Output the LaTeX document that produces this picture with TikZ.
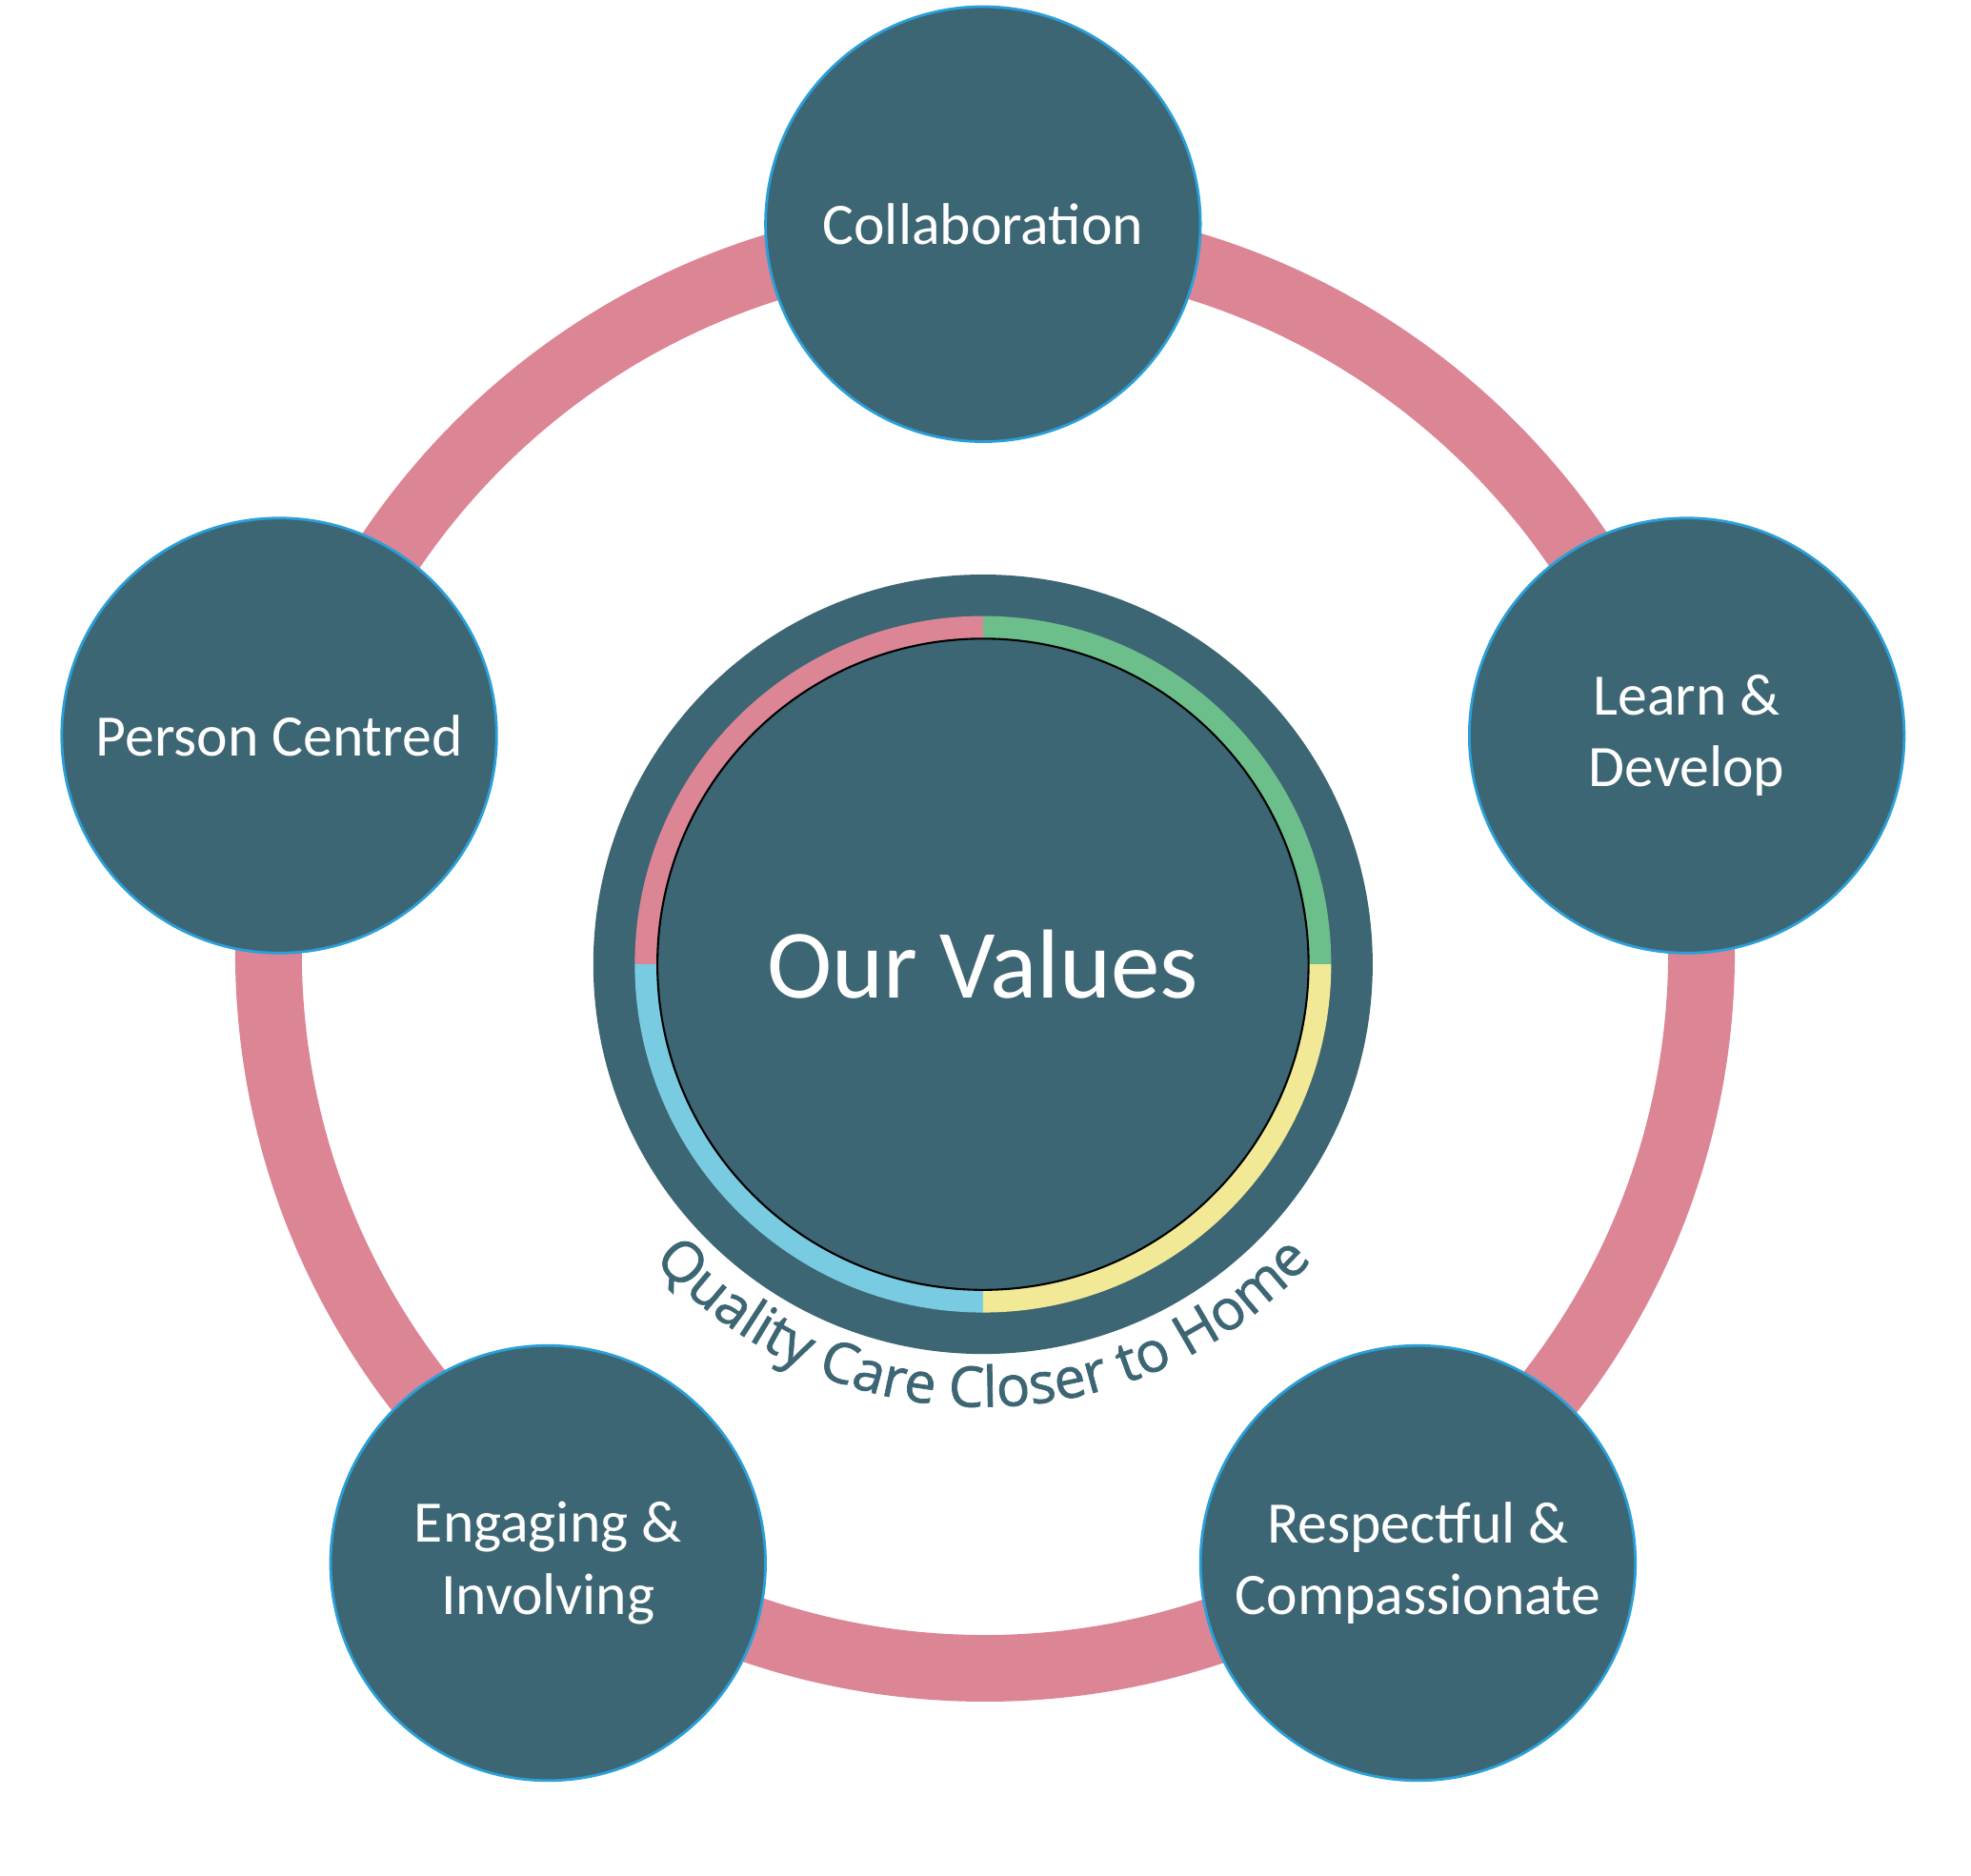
\documentclass[tikz,border=0pt]{standalone}
\usepackage{fontspec}
\setmainfont{Carlito}
\newfontfamily\arcfont[FakeBold=1.2]{Open Sans}
\usetikzlibrary{decorations.text}

\definecolor{deepteal}{HTML}{3D6674}
\definecolor{ringpink}{HTML}{DC8595}
\definecolor{ringgreen}{HTML}{6CBE8A}
\definecolor{ringyellow}{HTML}{F1E996}
\definecolor{ringblue}{HTML}{78CBE1}
\definecolor{rimblue}{HTML}{2A9FD8}

\tikzset{
    valuecircle/.style={circle, fill=deepteal, draw=rimblue, line width=0.6pt,
        minimum size=3.46cm, inner sep=0pt, text=white, align=center,
        font=\fontsize{13.3}{16.2}\selectfont},
    hubring/.style={line width=0.18cm}
}

\begin{document}
\begin{tikzpicture}
    \useasboundingbox (-7.82,-7.25) rectangle (7.86,7.67);

    % outer pink ring behind the five values
    \draw[ringpink, line width=0.53cm] (0.016,0.10) circle[radius=5.70];

    \node[circle, fill=deepteal, minimum size=6.2cm, inner sep=0pt] (hub) at (0,0) {};
    \draw[hubring, ringgreen]  (hub.center) ++(0:2.68)   arc[start angle=0,   end angle=90,  radius=2.68];
    \draw[hubring, ringpink]   (hub.center) ++(90:2.68)  arc[start angle=90,  end angle=180, radius=2.68];
    \draw[hubring, ringblue]   (hub.center) ++(180:2.68) arc[start angle=180, end angle=270, radius=2.68];
    \draw[hubring, ringyellow] (hub.center) ++(270:2.68) arc[start angle=270, end angle=360, radius=2.68];
    \draw[black, line width=0.45pt] (hub.center) circle[radius=2.59];
    \node[text=white, font=\fontsize{22.2}{26}\selectfont] (title) at (hub.center) {Our Values};

    \path[decorate, decoration={text along path, text align=center,
        text={|\arcfont\fontsize{12.7}{15}\selectfont\color{deepteal}|Quality Care Closer to Home}}]
        (hub.center) ++(200:3.52) arc[start angle=200, end angle=340, radius=3.52];

    \node[valuecircle] (collab)  at (90:5.887)  {Collaboration};
    \node[valuecircle] (learn)   at (18:5.887)  {Learn \&\\Develop};
    \node[valuecircle] (respect) at (-54:5.887) {Respectful \&\\Compassionate};
    \node[valuecircle] (engage)  at (234:5.887) {Engaging \&\\Involving};
    \node[valuecircle] (person)  at (162:5.887) {Person Centred};
\end{tikzpicture}
\end{document}
